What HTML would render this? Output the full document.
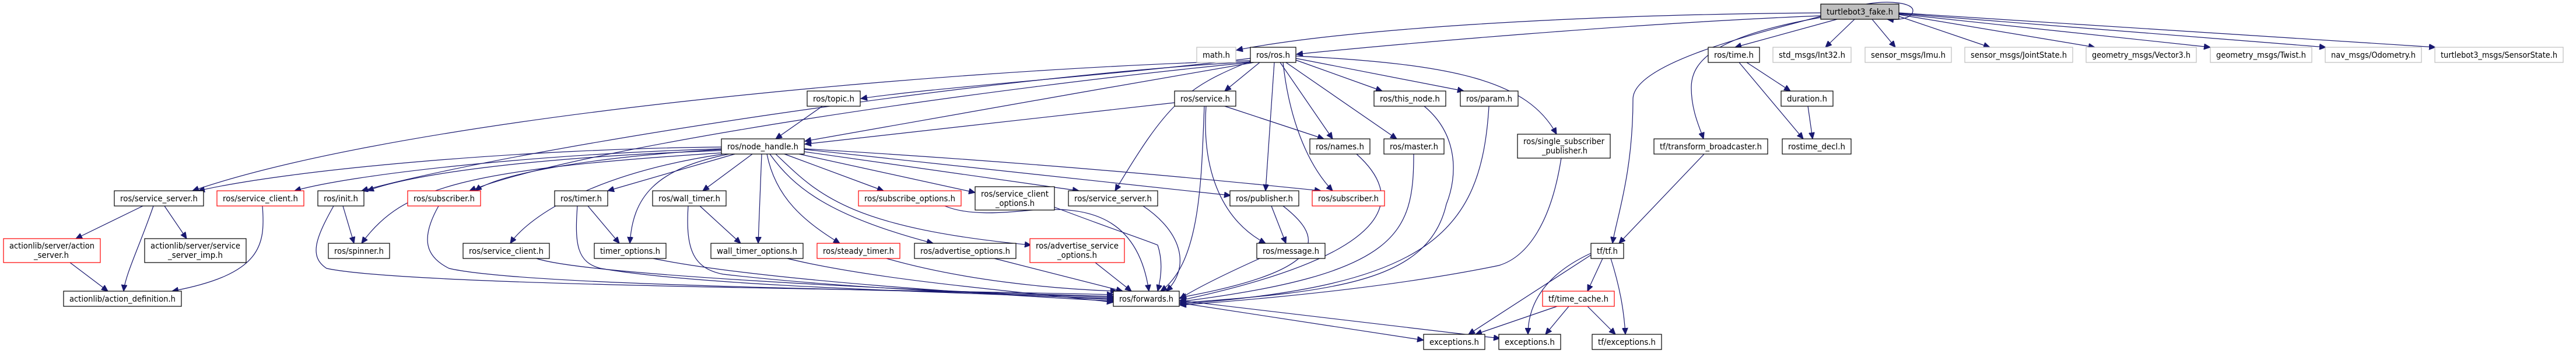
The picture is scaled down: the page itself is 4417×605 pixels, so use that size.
<!DOCTYPE html>
<html><head><meta charset="utf-8"><style>
html,body{margin:0;padding:0;background:#fff;}
svg{display:block;}
text{font-family:"DejaVu Sans","Liberation Sans",sans-serif;font-size:14px;fill:#000;}
.e{fill:none;stroke:#191970;stroke-width:1.2;marker-end:url(#a);}
.n{fill:#fff;stroke:#000;stroke-width:1.2;}
.r{fill:#fff;stroke:#ff0000;stroke-width:1.2;}
.g{fill:#fff;stroke:#bfbfbf;stroke-width:1.2;}
</style></head><body>
<svg width="4417" height="605" viewBox="0 0 4417 605" xmlns="http://www.w3.org/2000/svg">
<defs><marker id="a" markerUnits="userSpaceOnUse" markerWidth="12" markerHeight="10" refX="11" refY="5" orient="auto"><path d="M0,0 L11,5 L0,10 z" fill="#191970" stroke="#191970"/></marker></defs>
<g>
<!-- turtlebot edges -->
<path class="e" d="M3122,22 C2700,25 2300,50 2120,86"/>
<path class="e" d="M3122,27 C2800,40 2400,75 2223,93"/>
<path class="e" d="M3150,33 L2975,81"/>
<path class="e" d="M3180,33 L3130,81"/>
<path class="e" d="M3210,33 L3250,81"/>
<path class="e" d="M3256,28 L3412,81"/>
<path class="e" d="M3256,25 L3592,81"/>
<path class="e" d="M3256,24 L3790,81"/>
<path class="e" d="M3256,23 L3988,81"/>
<path class="e" d="M3256,22 L4176,81"/>
<path class="e" d="M3122,30 C2950,60 2900,100 2900,150 C2900,190 2915,220 2921,238"/>
<path class="e" d="M3122,28 C3000,60 2800,110 2800,170 C2800,300 2770,380 2765,417"/>
<path class="e" d="M3200,7 C3240,0 3280,5 3280,18 C3280,30 3260,35 3236,33"/>
<!-- ros.h edges -->
<path class="e" d="M2144,100 C1900,130 1600,150 1476,169"/>
<path class="e" d="M2150,107 C1900,150 1500,220 1380,242"/>
<path class="e" d="M2160,107 L2100,156"/>
<path class="e" d="M2222,103 L2370,156"/>
<path class="e" d="M2222,100 L2510,156"/>
<path class="e" d="M2195,107 L2285,238"/>
<path class="e" d="M2205,107 L2395,238"/>
<path class="e" d="M2222,96 C2500,110 2620,140 2669,230"/>
<path class="e" d="M2185,107 L2170,327"/>
<path class="e" d="M2200,107 C2210,200 2240,280 2285,327"/>
<path class="e" d="M2144,105 C2030,150 2000,180 1912,327"/>
<path class="e" d="M2144,104 C1600,120 700,200 330,327"/>
<path class="e" d="M2144,106 C1700,130 900,250 620,327"/>
<path class="e" d="M2144,107 C1700,150 1000,250 805,327"/>
<!-- topic/service -->
<path class="e" d="M1410,182 L1330,238"/>
<path class="e" d="M2014,176 L1380,247"/>
<path class="e" d="M2100,182 L2270,238"/>
<path class="e" d="M2068,182 C2060,300 2100,380 2170,417"/>
<path class="e" d="M2065,182 C2060,300 2060,450 1990,499"/>
<!-- node_handle edges -->
<path class="e" d="M1237,252 C900,255 500,290 340,327"/>
<path class="e" d="M1237,255 C900,265 600,300 505,327"/>
<path class="e" d="M1237,258 C900,270 700,300 630,327"/>
<path class="e" d="M1237,262 C800,290 690,320 620,417"/>
<path class="e" d="M1237,256 C1000,270 850,300 815,327"/>
<path class="e" d="M1240,264 C1000,300 900,380 875,417"/>
<path class="e" d="M1260,264 L1042,327"/>
<path class="e" d="M1250,264 C1120,290 1085,340 1080,417"/>
<path class="e" d="M1290,264 L1205,327"/>
<path class="e" d="M1306,264 L1300,417"/>
<path class="e" d="M1315,264 C1330,340 1380,380 1440,417"/>
<path class="e" d="M1320,264 C1360,320 1420,370 1600,417"/>
<path class="e" d="M1330,264 C1400,330 1450,390 1768,420"/>
<path class="e" d="M1345,264 L1515,327"/>
<path class="e" d="M1370,264 L1672,330"/>
<path class="e" d="M1379,260 L1850,327"/>
<path class="e" d="M1379,256 L2110,335"/>
<path class="e" d="M1379,255 C1800,280 2100,310 2265,327"/>
<!-- lower -->
<path class="e" d="M245,353 L130,409"/>
<path class="e" d="M263,353 C240,420 215,470 212,499"/>
<path class="e" d="M282,353 L320,409"/>
<path class="e" d="M120,450 L185,499"/>
<path class="e" d="M450,353 C455,420 450,470 295,499"/>
<path class="e" d="M588,353 L607,417"/>
<path class="e" d="M572,353 C540,410 530,440 560,460 C700,490 1500,495 1909,505"/>
<path class="e" d="M752,353 C720,410 730,440 770,460 C900,490 1500,495 1909,508"/>
<path class="e" d="M920,443 C1000,470 1500,495 1909,510"/>
<path class="e" d="M1008,353 L1062,417"/>
<path class="e" d="M990,353 C985,420 990,450 1030,460 C1200,490 1600,500 1909,512"/>
<path class="e" d="M1200,353 L1270,417"/>
<path class="e" d="M1180,353 C1175,430 1190,460 1240,470 C1500,500 1800,505 1909,514"/>
<path class="e" d="M1120,443 C1300,480 1700,505 1909,516"/>
<path class="e" d="M1350,443 C1500,480 1750,500 1909,518"/>
<path class="e" d="M1520,443 C1650,480 1800,495 1915,499"/>
<path class="e" d="M1705,443 L1925,499"/>
<path class="e" d="M1878,450 L1940,499"/>
<path class="e" d="M1620,353 C1660,370 1720,365 1770,360 C1850,355 1950,360 1970,499"/>
<path class="e" d="M1808,355 C1900,390 1960,410 1985,420 C1995,450 1990,480 1985,499"/>
<path class="e" d="M1960,353 C2030,400 2040,460 2000,499"/>
<path class="e" d="M2180,353 L2205,417"/>
<path class="e" d="M2200,353 C2260,400 2300,460 2023,510"/>
<path class="e" d="M2160,443 C2100,470 2050,495 2023,512"/>
<path class="e" d="M2326,264 C2400,330 2420,430 2023,515"/>
<path class="e" d="M2424,264 C2424,400 2400,470 2023,517"/>
<path class="e" d="M2442,182 C2500,230 2500,300 2480,350 C2450,480 2300,500 2023,519"/>
<path class="e" d="M2553,182 C2540,400 2450,490 2023,521"/>
<path class="e" d="M2677,271 C2660,380 2620,440 2570,455 C2400,490 2200,510 2023,523"/>
<path class="e" d="M2022,519 L2441,583"/>
<path class="e" d="M2022,515 L2572,580"/>
<path class="e" d="M2922,264 L2776,417"/>
<path class="e" d="M2748,443 L2722,499"/>
<path class="e" d="M2762,443 C2780,500 2785,540 2787,573"/>
<path class="e" d="M2728,437 L2518,573"/>
<path class="e" d="M2728,434 C2650,470 2620,520 2620,573"/>
<path class="e" d="M2670,525 L2530,573"/>
<path class="e" d="M2690,525 L2650,573"/>
<path class="e" d="M2722,525 L2770,573"/>
<path class="e" d="M2995,107 L3070,156"/>
<path class="e" d="M2982,107 L3092,238"/>
<path class="e" d="M3100,182 L3108,238"/>
</g>
<g>
<!-- nodes: rect + text -->
<rect x="3122" y="7" width="134" height="26" fill="#bfbfbf" stroke="#000" stroke-width="1.2"/><text x="3132" y="25" textLength="114" lengthAdjust="spacingAndGlyphs">turtlebot3_fake.h</text>

<rect class="g" x="2052" y="81" width="67" height="26"/><text x="2062" y="99" textLength="47" lengthAdjust="spacingAndGlyphs">math.h</text>
<rect class="n" x="2144" y="81" width="78" height="26"/><text x="2154" y="99" textLength="58" lengthAdjust="spacingAndGlyphs">ros/ros.h</text>
<rect class="n" x="2929" y="81" width="88" height="26"/><text x="2939" y="99" textLength="68" lengthAdjust="spacingAndGlyphs">ros/time.h</text>
<rect class="g" x="3040" y="81" width="134" height="26"/><text x="3050" y="99" textLength="114" lengthAdjust="spacingAndGlyphs">std_msgs/Int32.h</text>
<rect class="g" x="3198" y="81" width="148" height="26"/><text x="3208" y="99" textLength="128" lengthAdjust="spacingAndGlyphs">sensor_msgs/Imu.h</text>
<rect class="g" x="3369" y="81" width="185" height="26"/><text x="3379" y="99" textLength="165" lengthAdjust="spacingAndGlyphs">sensor_msgs/JointState.h</text>
<rect class="g" x="3577" y="81" width="189" height="26"/><text x="3587" y="99" textLength="169" lengthAdjust="spacingAndGlyphs">geometry_msgs/Vector3.h</text>
<rect class="g" x="3790" y="81" width="174" height="26"/><text x="3800" y="99" textLength="154" lengthAdjust="spacingAndGlyphs">geometry_msgs/Twist.h</text>
<rect class="g" x="3987" y="81" width="165" height="26"/><text x="3997" y="99" textLength="145" lengthAdjust="spacingAndGlyphs">nav_msgs/Odometry.h</text>
<rect class="g" x="4175" y="81" width="220" height="26"/><text x="4185" y="99" textLength="200" lengthAdjust="spacingAndGlyphs">turtlebot3_msgs/SensorState.h</text>

<rect class="n" x="1384" y="156" width="91" height="26"/><text x="1394" y="174" textLength="71" lengthAdjust="spacingAndGlyphs">ros/topic.h</text>
<rect class="n" x="2014" y="156" width="105" height="26"/><text x="2024" y="174" textLength="85" lengthAdjust="spacingAndGlyphs">ros/service.h</text>
<rect class="n" x="2356" y="156" width="123" height="26"/><text x="2366" y="174" textLength="103" lengthAdjust="spacingAndGlyphs">ros/this_node.h</text>
<rect class="n" x="2504" y="156" width="99" height="26"/><text x="2514" y="174" textLength="79" lengthAdjust="spacingAndGlyphs">ros/param.h</text>
<rect class="n" x="3054" y="156" width="89" height="26"/><text x="3064" y="174" textLength="69" lengthAdjust="spacingAndGlyphs">duration.h</text>

<rect class="n" x="1237" y="238" width="142" height="26"/><text x="1247" y="256" textLength="122" lengthAdjust="spacingAndGlyphs">ros/node_handle.h</text>
<rect class="n" x="2246" y="238" width="103" height="26"/><text x="2256" y="256" textLength="83" lengthAdjust="spacingAndGlyphs">ros/names.h</text>
<rect class="n" x="2373" y="238" width="103" height="26"/><text x="2383" y="256" textLength="83" lengthAdjust="spacingAndGlyphs">ros/master.h</text>
<rect class="n" x="2602" y="230" width="159" height="41"/><text x="2612" y="247" textLength="139" lengthAdjust="spacingAndGlyphs">ros/single_subscriber</text><text x="2644" y="263" textLength="78" lengthAdjust="spacingAndGlyphs">_publisher.h</text>
<rect class="n" x="2836" y="238" width="195" height="26"/><text x="2846" y="256" textLength="175" lengthAdjust="spacingAndGlyphs">tf/transform_broadcaster.h</text>
<rect class="n" x="3056" y="238" width="118" height="26"/><text x="3066" y="256" textLength="98" lengthAdjust="spacingAndGlyphs">rostime_decl.h</text>

<rect class="n" x="196" y="327" width="153" height="26"/><text x="206" y="345" textLength="133" lengthAdjust="spacingAndGlyphs">ros/service_server.h</text>
<rect class="r" x="372" y="327" width="149" height="26"/><text x="382" y="345" textLength="129" lengthAdjust="spacingAndGlyphs">ros/service_client.h</text>
<rect class="n" x="545" y="327" width="79" height="26"/><text x="555" y="345" textLength="59" lengthAdjust="spacingAndGlyphs">ros/init.h</text>
<rect class="r" x="699" y="327" width="125" height="26"/><text x="709" y="345" textLength="105" lengthAdjust="spacingAndGlyphs">ros/subscriber.h</text>
<rect class="n" x="951" y="327" width="91" height="26"/><text x="961" y="345" textLength="71" lengthAdjust="spacingAndGlyphs">ros/timer.h</text>
<rect class="n" x="1119" y="327" width="126" height="26"/><text x="1129" y="345" textLength="106" lengthAdjust="spacingAndGlyphs">ros/wall_timer.h</text>
<rect class="r" x="1472" y="327" width="176" height="26"/><text x="1482" y="345" textLength="156" lengthAdjust="spacingAndGlyphs">ros/subscribe_options.h</text>
<rect class="n" x="1672" y="320" width="136" height="40"/><text x="1682" y="337" textLength="116" lengthAdjust="spacingAndGlyphs">ros/service_client</text><text x="1707" y="353" textLength="67" lengthAdjust="spacingAndGlyphs">_options.h</text>
<rect class="n" x="1832" y="327" width="153" height="26"/><text x="1842" y="345" textLength="133" lengthAdjust="spacingAndGlyphs">ros/service_server.h</text>
<rect class="n" x="2109" y="327" width="118" height="26"/><text x="2119" y="345" textLength="98" lengthAdjust="spacingAndGlyphs">ros/publisher.h</text>
<rect class="r" x="2250" y="327" width="124" height="26"/><text x="2260" y="345" textLength="104" lengthAdjust="spacingAndGlyphs">ros/subscriber.h</text>

<rect class="r" x="6" y="409" width="166" height="41"/><text x="16" y="426" textLength="146" lengthAdjust="spacingAndGlyphs">actionlib/server/action</text><text x="58" y="442" textLength="60" lengthAdjust="spacingAndGlyphs">_server.h</text>
<rect class="n" x="248" y="409" width="174" height="41"/><text x="258" y="426" textLength="154" lengthAdjust="spacingAndGlyphs">actionlib/server/service</text><text x="288" y="442" textLength="94" lengthAdjust="spacingAndGlyphs">_server_imp.h</text>
<rect class="n" x="563" y="417" width="105" height="26"/><text x="573" y="435" textLength="85" lengthAdjust="spacingAndGlyphs">ros/spinner.h</text>
<rect class="n" x="794" y="417" width="148" height="26"/><text x="804" y="435" textLength="128" lengthAdjust="spacingAndGlyphs">ros/service_client.h</text>
<rect class="n" x="1019" y="417" width="123" height="26"/><text x="1029" y="435" textLength="103" lengthAdjust="spacingAndGlyphs">timer_options.h</text>
<rect class="n" x="1219" y="417" width="158" height="26"/><text x="1229" y="435" textLength="138" lengthAdjust="spacingAndGlyphs">wall_timer_options.h</text>
<rect class="r" x="1401" y="417" width="142" height="26"/><text x="1411" y="435" textLength="122" lengthAdjust="spacingAndGlyphs">ros/steady_timer.h</text>
<rect class="n" x="1568" y="417" width="174" height="26"/><text x="1578" y="435" textLength="154" lengthAdjust="spacingAndGlyphs">ros/advertise_options.h</text>
<rect class="r" x="1766" y="409" width="162" height="41"/><text x="1776" y="426" textLength="142" lengthAdjust="spacingAndGlyphs">ros/advertise_service</text><text x="1813" y="442" textLength="68" lengthAdjust="spacingAndGlyphs">_options.h</text>
<rect class="n" x="2155" y="417" width="117" height="26"/><text x="2165" y="435" textLength="97" lengthAdjust="spacingAndGlyphs">ros/message.h</text>
<rect class="n" x="2728" y="417" width="56" height="26"/><text x="2738" y="435" textLength="36" lengthAdjust="spacingAndGlyphs">tf/tf.h</text>

<rect class="n" x="109" y="499" width="202" height="26"/><text x="119" y="517" textLength="182" lengthAdjust="spacingAndGlyphs">actionlib/action_definition.h</text>
<rect class="n" x="1909" y="499" width="113" height="26"/><text x="1919" y="517" textLength="93" lengthAdjust="spacingAndGlyphs">ros/forwards.h</text>
<rect class="r" x="2645" y="499" width="123" height="26"/><text x="2655" y="517" textLength="103" lengthAdjust="spacingAndGlyphs">tf/time_cache.h</text>

<rect class="n" x="2441" y="573" width="105" height="26"/><text x="2451" y="591" textLength="85" lengthAdjust="spacingAndGlyphs">exceptions.h</text>
<rect class="n" x="2570" y="573" width="106" height="26"/><text x="2580" y="591" textLength="86" lengthAdjust="spacingAndGlyphs">exceptions.h</text>
<rect class="n" x="2730" y="573" width="119" height="26"/><text x="2740" y="591" textLength="99" lengthAdjust="spacingAndGlyphs">tf/exceptions.h</text>
</g>
</svg>
</body></html>
